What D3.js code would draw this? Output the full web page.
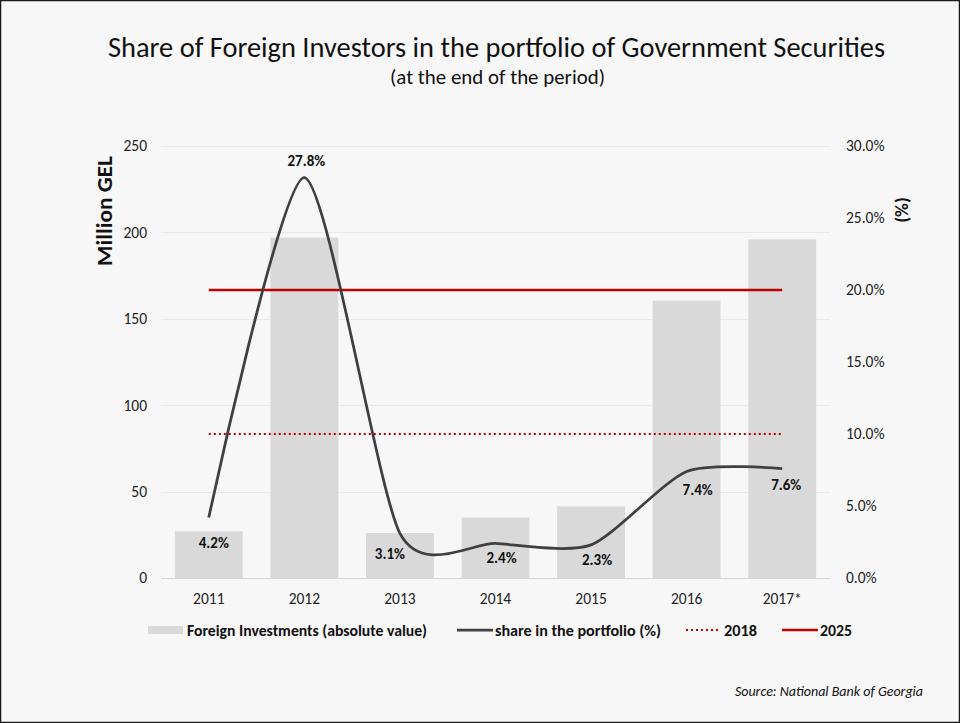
<!DOCTYPE html>
<html>
<head>
<meta charset="utf-8">
<script src="https://cdn.jsdelivr.net/npm/d3@7"></script>
<style>
  html, body { margin: 0; padding: 0; background: #f7f7f7; }
  svg { display: block; font-family: Carlito, Lato, sans-serif; }
</style>
</head>
<body>
<svg id="chart" width="960" height="723"></svg>
<script>
// Foreign holdings of government securities, end of period
const years = ["2011", "2012", "2013", "2014", "2015", "2016", "2017*"];
const investments = [27, 197, 26, 35, 41.5, 160.5, 196];     // million GEL
const sharePct = [4.2, 27.8, 3.1, 2.4, 2.3, 7.4, 7.6];        // % of portfolio
const target2018 = 10;                                        // %
const target2025 = 20;                                        // %
const leftTicks = [0, 50, 100, 150, 200, 250];
const rightTicks = [0, 5, 10, 15, 20, 25, 30];

const svg = d3.select("#chart");
const W = 960, H = 723;
const FONT = "Carlito, Lato, sans-serif";

svg.append("rect").attr("x", 0.5).attr("y", 0.5).attr("width", W - 1).attr("height", H - 1)
  .attr("fill", "#f7f7f7").attr("stroke", "#1a1a1a").attr("stroke-width", 1.5);

const plot = { left: 161, right: 830, top: 146, bottom: 578 };

const x = d3.scaleBand().domain(years).range([plot.left, plot.right]).paddingInner(0.29).paddingOuter(0.145);
const yL = d3.scaleLinear().domain([0, 250]).range([plot.bottom, plot.top]);
const yR = d3.scaleLinear().domain([0, 30]).range([plot.bottom, plot.top]);
const cx = d => x(d) + x.bandwidth() / 2;

// title
svg.append("text").attr("x", 108).attr("y", 57)
  .attr("font-size", 29).attr("font-weight", 400).attr("fill", "#111")
  .attr("textLength", 777).attr("lengthAdjust", "spacingAndGlyphs")
  .text("Share of Foreign Investors in the portfolio of Government Securities");
svg.append("text").attr("x", 390).attr("y", 84)
  .attr("font-size", 20).attr("font-weight", 400).attr("fill", "#111")
  .attr("textLength", 215).attr("lengthAdjust", "spacingAndGlyphs")
  .text("(at the end of the period)");

// gridlines
svg.append("g").selectAll("line").data(leftTicks).join("line")
  .attr("x1", plot.left).attr("x2", plot.right)
  .attr("y1", d => Math.round(yL(d)) + 0.5).attr("y2", d => Math.round(yL(d)) + 0.5)
  .attr("stroke", d => d === 0 ? "#d4d4d4" : "#e9e9e9").attr("stroke-width", 1);

// left axis
const axL = svg.append("g").attr("transform", `translate(${plot.left},0)`)
  .call(d3.axisLeft(yL).tickValues(leftTicks).tickSize(0).tickPadding(14));
axL.select(".domain").remove();
axL.selectAll("text").attr("font-size", 15.5).attr("fill", "#222").attr("font-family", FONT);

// right axis
const axR = svg.append("g").attr("transform", `translate(${plot.right},0)`)
  .call(d3.axisRight(yR).tickValues(rightTicks).tickSize(0).tickPadding(16).tickFormat(d => d.toFixed(1) + "%"));
axR.select(".domain").remove();
axR.selectAll("text").attr("font-size", 15.5).attr("fill", "#222").attr("font-family", FONT);

// bottom axis
const axB = svg.append("g").attr("transform", `translate(0,${plot.bottom})`)
  .call(d3.axisBottom(x).tickSize(0).tickPadding(15));
axB.select(".domain").remove();
axB.selectAll("text").attr("font-size", 15.5).attr("fill", "#222").attr("font-family", FONT);

// axis titles
svg.append("text").attr("transform", `translate(112,211) rotate(-90)`)
  .attr("text-anchor", "middle").attr("font-size", 22).attr("font-weight", 700).attr("fill", "#111")
  .attr("textLength", 110).attr("lengthAdjust", "spacingAndGlyphs")
  .text("Million GEL");
svg.append("text").attr("transform", `translate(908,210) rotate(-90)`)
  .attr("text-anchor", "middle").attr("font-size", 19).attr("font-weight", 700).attr("fill", "#111")
  .text("(%)");

// bars
svg.append("g").selectAll("rect").data(years).join("rect")
  .attr("x", d => x(d)).attr("width", x.bandwidth())
  .attr("y", (d, i) => yL(investments[i])).attr("height", (d, i) => yL(0) - yL(investments[i]))
  .attr("fill", "#d9d9d9");

// target lines
const xs = [cx(years[0]), cx(years[years.length - 1])];
svg.append("line").attr("x1", xs[0]).attr("x2", xs[1])
  .attr("y1", yR(target2018)).attr("y2", yR(target2018))
  .attr("stroke", "#c00000").attr("stroke-width", 2).attr("stroke-dasharray", "2,3");
svg.append("line").attr("x1", xs[0]).attr("x2", xs[1])
  .attr("y1", yR(target2025)).attr("y2", yR(target2025))
  .attr("stroke", "#c00000").attr("stroke-width", 2.5);

// share line
const pts = years.map((d, i) => [cx(d), yR(sharePct[i])]);
svg.append("path").attr("d", d3.line().curve(d3.curveCardinal.tension(0.3))(pts))
  .attr("fill", "none").attr("stroke", "#404040").attr("stroke-width", 2.75);

// data labels
const labelOff = [[5, 25], [2, -17], [-10, 20], [6, 14], [6, 15], [11, 18], [4, 16]];
svg.append("g").selectAll("text").data(years).join("text")
  .attr("x", (d, i) => cx(d) + labelOff[i][0])
  .attr("y", (d, i) => yR(sharePct[i]) + labelOff[i][1])
  .attr("dy", "0.35em").attr("text-anchor", "middle")
  .attr("font-size", 15).attr("font-weight", 700).attr("fill", "#111")
  .text((d, i) => sharePct[i].toFixed(1) + "%");

// legend
const lg = svg.append("g").attr("font-size", 16).attr("font-weight", 700).attr("fill", "#111");
const ly = 630;
lg.append("rect").attr("x", 148).attr("y", ly - 4).attr("width", 35).attr("height", 8).attr("fill", "#d9d9d9");
lg.append("text").attr("x", 187).attr("y", ly).attr("dy", "0.35em")
  .attr("textLength", 240).attr("lengthAdjust", "spacingAndGlyphs").text("Foreign Investments (absolute value)");
lg.append("line").attr("x1", 457).attr("x2", 493).attr("y1", ly).attr("y2", ly).attr("stroke", "#404040").attr("stroke-width", 2.75);
lg.append("text").attr("x", 495).attr("y", ly).attr("dy", "0.35em")
  .attr("textLength", 166).attr("lengthAdjust", "spacingAndGlyphs").text("share in the portfolio (%)");
lg.append("line").attr("x1", 686).attr("x2", 721).attr("y1", ly).attr("y2", ly).attr("stroke", "#c00000").attr("stroke-width", 2).attr("stroke-dasharray", "2,3");
lg.append("text").attr("x", 724).attr("y", ly).attr("dy", "0.35em")
  .attr("textLength", 33).attr("lengthAdjust", "spacingAndGlyphs").text("2018");
lg.append("line").attr("x1", 782).attr("x2", 818).attr("y1", ly).attr("y2", ly).attr("stroke", "#c00000").attr("stroke-width", 2.5);
lg.append("text").attr("x", 820).attr("y", ly).attr("dy", "0.35em")
  .attr("textLength", 32).attr("lengthAdjust", "spacingAndGlyphs").text("2025");

// source
svg.append("text").attr("x", 923).attr("y", 696).attr("text-anchor", "end")
  .attr("font-size", 14).attr("font-style", "italic").attr("fill", "#111")
  .text("Source: National Bank of Georgia");
</script>
</body>
</html>
